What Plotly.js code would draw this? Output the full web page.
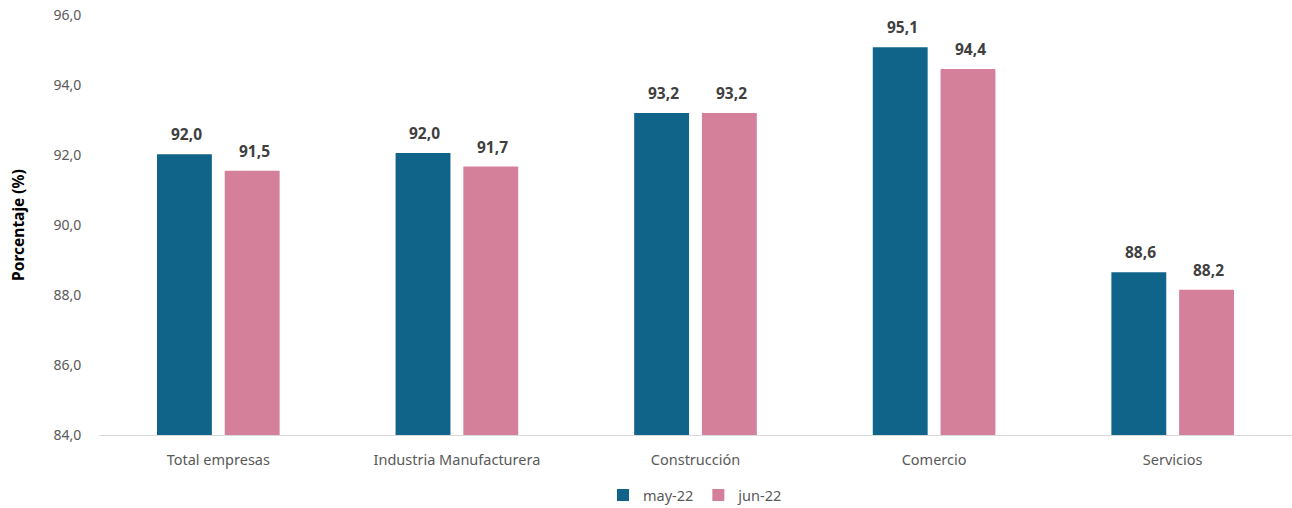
<!DOCTYPE html>
<html>
<head>
<meta charset="utf-8">
<script src="https://cdn.plot.ly/plotly-3.0.1.min.js"></script>
<style>html,body{margin:0;padding:0;background:#fff;}#chart{width:1292px;height:508px;}</style>
</head>
<body>
<div id="chart"></div>
<script>
const categories = ["Total empresas", "Industria Manufacturera", "Construcción", "Comercio", "Servicios"];
const seriesNames = ["may-22", "jun-22"];
const mayValues = [92.02, 92.06, 93.20, 95.08, 88.65];
const junValues = [91.55, 91.67, 93.20, 94.46, 88.15];
const mayLabels = ["92,0", "92,0", "93,2", "95,1", "88,6"];
const junLabels = ["91,5", "91,7", "93,2", "94,4", "88,2"];
const yTicks = [84, 86, 88, 90, 92, 94, 96];

const colors = ["#10648A", "#D4809A"];
const font = "Noto Sans, Open Sans, sans-serif";

const traces = [
  {type: "bar", name: seriesNames[0], x: categories, y: mayValues, marker: {color: colors[0]}, hoverinfo: "none"},
  {type: "bar", name: seriesNames[1], x: categories, y: junValues, marker: {color: colors[1]}, hoverinfo: "none"}
];

const annotations = [];
[[mayValues, mayLabels, -32], [junValues, junLabels, 36]].forEach(([vals, labs, dx]) => {
  vals.forEach((v, i) => {
    annotations.push({
      x: categories[i], y: v, xref: "x", yref: "y",
      text: "<b>" + labs[i] + "</b>", showarrow: false,
      xshift: dx, yshift: 7, yanchor: "bottom",
      font: {family: font, size: 15.5, color: "#404040"}
    });
  });
});
annotations.push({
  xref: "paper", yref: "paper", x: -0.068, y: 0.5, xanchor: "center", yanchor: "middle",
  text: "<b>Porcentaje (%)</b>", textangle: -90, showarrow: false,
  font: {family: font, size: 15.5, color: "#000"}
});

const layout = {
  width: 1292, height: 508,
  margin: {l: 99, r: 0, t: 15, b: 73, autoexpand: false},
  paper_bgcolor: "#fff", plot_bgcolor: "#fff",
  separators: ",.",
  barmode: "group", bargap: 0.432, bargroupgap: 0.19,
  font: {family: font, size: 14, color: "#595959"},
  xaxis: {
    showline: true, linecolor: "#D9D9D9", linewidth: 1, automargin: false,
    ticks: "", tickfont: {size: 14.5, color: "#595959"}, showgrid: false, ticklabelstandoff: 12
  },
  yaxis: {
    range: [84, 96], tickvals: yTicks, tickformat: ".1f", automargin: false,
    showgrid: false, zeroline: false, showline: false,
    tickfont: {size: 14, color: "#595959"}, ticks: "outside", ticklen: 14, tickcolor: "rgba(0,0,0,0)"
  },
  showlegend: true,
  legend: {orientation: "h", x: 0.5, xanchor: "center", y: -0.143, yanchor: "middle",
    font: {size: 14.5, color: "#595959"}, itemwidth: 30, traceorder: "normal"},
  annotations: annotations
};

Plotly.newPlot("chart", traces, layout, {displayModeBar: false, staticPlot: true});
</script>
</body>
</html>
